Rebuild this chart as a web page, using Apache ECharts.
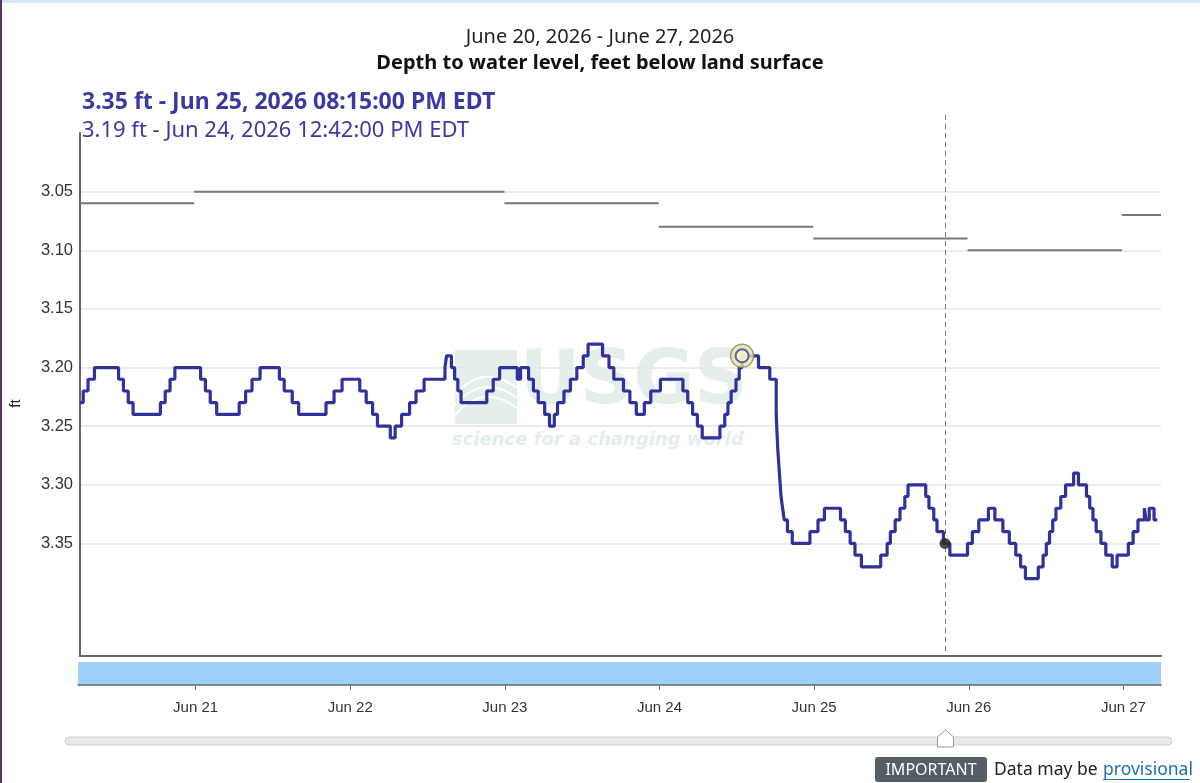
<!DOCTYPE html>
<html>
<head>
<meta charset="utf-8">
<script src="https://cdn.jsdelivr.net/npm/echarts@6/dist/echarts.min.js"></script>
<style>
  html, body { margin: 0; padding: 0; background: #fff; }
  #chart { width: 1200px; height: 783px; }
</style>
</head>
<body>
<div id="chart"></div>
<script>
// water level readings (step changes), feet below land surface
var levelTimes = [
  '06-20 05:45', '06-20 06:15', '06-20 07:00', '06-20 08:00', '06-20 11:45', '06-20 12:30', '06-20 13:15', '06-20 14:00',
  '06-20 18:15', '06-20 19:00', '06-20 19:45', '06-20 20:30',
  '06-21 00:30', '06-21 01:15', '06-21 02:00', '06-21 03:00', '06-21 06:30', '06-21 07:30', '06-21 08:30', '06-21 09:45',
  '06-21 12:45', '06-21 13:30', '06-21 14:45', '06-21 15:45', '06-21 20:00', '06-21 21:15', '06-21 22:30',
  '06-22 01:15', '06-22 02:15', '06-22 03:15', '06-22 04:00', '06-22 06:00', '06-22 06:45', '06-22 07:45', '06-22 09:00',
  '06-22 10:00', '06-22 11:15', '06-22 14:30', '06-22 14:45', '06-22 15:30', '06-22 16:00', '06-22 16:30', '06-22 17:00',
  '06-22 21:00', '06-22 22:00', '06-22 23:00',
  '06-23 01:45', '06-23 02:15', '06-23 03:30', '06-23 04:15', '06-23 05:00', '06-23 06:00', '06-23 06:45', '06-23 07:30',
  '06-23 08:00', '06-23 09:00', '06-23 10:00', '06-23 11:00', '06-23 12:00', '06-23 12:45', '06-23 15:00', '06-23 16:00',
  '06-23 16:45', '06-23 18:15', '06-23 19:15', '06-23 20:15', '06-23 21:30', '06-23 22:30',
  '06-24 00:00', '06-24 03:30', '06-24 04:15', '06-24 05:00', '06-24 05:45', '06-24 06:30', '06-24 09:15', '06-24 10:00',
  '06-24 10:30', '06-24 11:00', '06-24 11:45', '06-24 12:15', '06-24 12:42', '06-24 15:15', '06-24 17:00', '06-24 18:00',
  '06-24 18:15', '06-24 18:30', '06-24 18:45', '06-24 19:00', '06-24 19:15', '06-24 19:45', '06-24 20:30', '06-24 23:15',
  '06-25 00:30', '06-25 01:30', '06-25 04:00', '06-25 04:45', '06-25 05:30', '06-25 06:15', '06-25 07:15', '06-25 10:15',
  '06-25 11:15', '06-25 11:45', '06-25 12:30', '06-25 13:15', '06-25 14:00', '06-25 14:30', '06-25 17:15', '06-25 17:45',
  '06-25 18:30', '06-25 19:00', '06-25 20:00', '06-25 21:00', '06-25 23:45',
  '06-26 00:30', '06-26 01:30', '06-26 03:00', '06-26 04:00', '06-26 05:15', '06-26 06:15', '06-26 07:15', '06-26 08:00',
  '06-26 08:45', '06-26 10:45', '06-26 11:30', '06-26 12:00', '06-26 12:30', '06-26 13:00', '06-26 13:30', '06-26 14:15',
  '06-26 15:00', '06-26 16:15', '06-26 17:00', '06-26 18:15', '06-26 18:45', '06-26 19:15', '06-26 19:45', '06-26 20:30',
  '06-26 21:15', '06-26 22:15', '06-26 23:00',
  '06-27 00:45', '06-27 01:30', '06-27 02:15', '06-27 03:15', '06-27 03:30', '06-27 04:00', '06-27 04:45', '06-27 05:15'
]
var levelValues = [
  3.23, 3.22, 3.21, 3.20, 3.21, 3.22, 3.23, 3.24, 3.23, 3.22, 3.21, 3.20,
  3.21, 3.22, 3.23, 3.24, 3.23, 3.22, 3.21, 3.20, 3.21, 3.22, 3.23, 3.24, 3.23, 3.22, 3.21,
  3.22, 3.23, 3.24, 3.25, 3.26, 3.25, 3.24, 3.23, 3.22, 3.21, 3.20, 3.19, 3.20, 3.21, 3.22, 3.23, 3.22, 3.21, 3.20,
  3.21, 3.20, 3.21, 3.22, 3.23, 3.24, 3.25, 3.24, 3.23, 3.22, 3.21, 3.20, 3.19, 3.18, 3.19, 3.20, 3.21, 3.22, 3.23,
  3.24, 3.23, 3.22,
  3.21, 3.22, 3.23, 3.24, 3.25, 3.26, 3.25, 3.24, 3.23, 3.22, 3.21, 3.20, 3.19, 3.20, 3.21, 3.24, 3.27, 3.29, 3.31,
  3.32, 3.33, 3.34, 3.35, 3.34,
  3.33, 3.32, 3.33, 3.34, 3.35, 3.36, 3.37, 3.36, 3.35, 3.34, 3.33, 3.32, 3.31, 3.30, 3.31, 3.32, 3.33, 3.34, 3.35,
  3.36, 3.35,
  3.34, 3.33, 3.32, 3.33, 3.34, 3.35, 3.36, 3.37, 3.38, 3.37, 3.36, 3.35, 3.34, 3.33, 3.32, 3.31, 3.30, 3.29, 3.30,
  3.31, 3.32, 3.33, 3.34, 3.35, 3.36, 3.37, 3.36,
  3.35, 3.34, 3.33, 3.32, 3.33, 3.32, 3.33, 3.33
]

// daily statistic (grey segments)
var statStarts = ['06-20 05:45', '06-20 23:30', '06-22 23:45', '06-23 23:45', '06-24 23:45', '06-25 23:45', '06-26 23:45']
var statValues = [3.06, 3.05, 3.06, 3.08, 3.09, 3.10, 3.07]

var dayTicks = ['06-21', '06-22', '06-23', '06-24', '06-25', '06-26', '06-27']
var dayLabels = ['Jun 21', 'Jun 22', 'Jun 23', 'Jun 24', 'Jun 25', 'Jun 26', 'Jun 27']
var yTicks = [3.05, 3.10, 3.15, 3.20, 3.25, 3.30, 3.35]

var rangeStart = '06-20 05:45'
var rangeEnd = '06-27 05:50'
var cursorTime = '06-25 20:15', cursorValue = 3.35, cursorText = 'Jun 25, 2026 08:15:00 PM EDT'
var pickTime = '06-24 12:42', pickValue = 3.19, pickText = 'Jun 24, 2026 12:42:00 PM EDT'

function t(s) {
  var p = s.split(' ')
  return new Date('2026-' + p[0] + 'T' + (p[1] || '00:00')).getTime()
}

var levelData = levelTimes.map(function(s, i) { return [t(s), levelValues[i]] })
var statData = []
statStarts.forEach(function(s, i) {
  var end = i + 1 < statStarts.length ? statStarts[i + 1] : rangeEnd
  statData.push([t(s), statValues[i]], [t(end), statValues[i]], [t(end), '-'])
})
var dayTickValues = dayTicks.map(t)
var DAY = 86400000

var chart = echarts.init(document.getElementById('chart'))
var blue = '#31319b'
var txtBlue = '#3a3aa2'
var wm = '#e4eeeb'

chart.setOption({
  animation: false,
  title: [
    { text: 'June 20, 2026 - June 27, 2026', left: 'center', top: 27, padding: 0,
      textStyle: { fontFamily: 'Noto Sans', fontSize: 20, fontWeight: 'normal', color: '#222' } },
    { text: 'Depth to water level, feet below land surface', left: 'center', top: 53, padding: 0,
      textStyle: { fontFamily: 'Noto Sans', fontSize: 20, fontWeight: 'bold', color: '#111' } },
    { text: cursorValue.toFixed(2) + ' ft - ' + cursorText, left: 82, top: 91, padding: 0,
      textStyle: { fontFamily: 'Noto Sans', fontSize: 23, fontWeight: 'bold', color: txtBlue } },
    { text: pickValue.toFixed(2) + ' ft - ' + pickText, left: 82, top: 120, padding: 0,
      textStyle: { fontFamily: 'Noto Sans', fontSize: 22, fontWeight: 'normal', color: txtBlue } }
  ],
  grid: [
    { left: 78, right: 39, top: 133, bottom: 127 },
    { left: 78, right: 39, top: 662, height: 23, show: true, backgroundColor: '#a0d1fa', borderWidth: 0 }
  ],
  xAxis: [
    { type: 'time', gridIndex: 0, min: t(rangeStart), max: t(rangeEnd),
      axisLine: { show: true, lineStyle: { color: '#666', width: 2 } },
      axisTick: { show: false }, axisLabel: { show: false }, splitLine: { show: false } },
    { type: 'time', gridIndex: 1, min: t(rangeStart), max: t(rangeEnd), position: 'bottom', offset: 7,
      minInterval: DAY, maxInterval: DAY,
      axisLine: { show: true, lineStyle: { color: '#666', width: 1.5 } },
      axisTick: { show: true, length: 5, lineStyle: { color: '#666' } },
      axisLabel: { margin: 8, fontFamily: 'Liberation Sans', fontSize: 15, color: '#333',
        formatter: function(v) { return dayLabels[dayTickValues.indexOf(v)] || '' } },
      splitLine: { show: false } }
  ],
  yAxis: [
    { type: 'value', gridIndex: 0, inverse: true, min: 3.0, max: 3.446,
      name: 'ft', nameLocation: 'middle', nameGap: 57, nameRotate: 90,
      nameTextStyle: { fontFamily: 'Liberation Sans', fontSize: 15, color: '#222', padding: [0, 0, 0, -18] },
      axisLine: { show: true, lineStyle: { color: '#666', width: 2 } },
      axisTick: { show: false },
      axisLabel: { customValues: yTicks, margin: 7, fontFamily: 'Liberation Sans', fontSize: 16.5, color: '#333',
        formatter: function(v) { return v.toFixed(2) } },
      splitLine: { show: false } },
    { type: 'value', gridIndex: 1, show: false, min: 0, max: 1 }
  ],
  graphic: [
    { id: 'topband', type: 'rect', shape: { x: 0, y: 0, width: 1200, height: 3 }, style: { fill: '#d5e5f4' }, z: 100 },
    { id: 'leftband', type: 'rect', shape: { x: 0, y: 0, width: 2, height: 783 }, style: { fill: '#5e3060' }, z: 100 },
    // watermark
    { id: 'watermark', type: 'group', z: -1, silent: true, children: [
      { type: 'rect', shape: { x: 455, y: 350, width: 62, height: 74 }, style: { fill: wm } },
      { type: 'bezierCurve', shape: { x1: 455, y1: 395, cpx1: 475, cpy1: 372, cpx2: 495, cpy2: 372, x2: 517, y2: 388 },
        style: { stroke: '#fff', lineWidth: 2, fill: null } },
      { type: 'bezierCurve', shape: { x1: 455, y1: 405, cpx1: 475, cpy1: 382, cpx2: 495, cpy2: 382, x2: 517, y2: 398 },
        style: { stroke: '#fff', lineWidth: 2, fill: null } },
      { type: 'bezierCurve', shape: { x1: 455, y1: 415, cpx1: 475, cpy1: 392, cpx2: 495, cpy2: 392, x2: 517, y2: 408 },
        style: { stroke: '#fff', lineWidth: 2, fill: null } },
      { type: 'text', x: 520, y: 347, style: { text: 'USGS', fontFamily: 'DejaVu Sans', fontWeight: 'bold',
        fontSize: 74, fill: wm } },
      { type: 'text', x: 452, y: 431, style: { text: 'science for a changing world', fontFamily: 'DejaVu Sans',
        fontStyle: 'italic', fontWeight: 'bold', fontSize: 18, fill: wm } }
    ] },
    // scrollbar track
    { id: 'track', type: 'rect', shape: { x: 65, y: 737, width: 1107, height: 8, r: 4 },
      style: { fill: '#e9e9e9', stroke: '#cfcfcf', lineWidth: 1 } },
    // notice
    { id: 'badge', type: 'rect', shape: { x: 875, y: 757, width: 112, height: 25, r: 3 }, style: { fill: '#555d66' } },
    { id: 'badgeText', type: 'text', x: 931, y: 770, style: { text: 'IMPORTANT', fontFamily: 'Noto Sans', fontSize: 16,
      fill: '#fff', align: 'center', verticalAlign: 'middle' } },
    { id: 'note', type: 'text', x: 994, y: 770, style: { text: 'Data may be', fontFamily: 'Noto Sans', fontSize: 17.5,
      fill: '#222', verticalAlign: 'middle' } },
    { id: 'link', type: 'text', x: 1103, y: 770, style: { text: 'provisional', fontFamily: 'Noto Sans', fontSize: 17.5,
      fill: '#1f6fae', verticalAlign: 'middle' } },
    { id: 'linkLine', type: 'rect', shape: { x: 1103, y: 779, width: 87, height: 1 }, style: { fill: '#1f6fae' } }
  ],
  series: [
    { type: 'line', name: 'daily', xAxisIndex: 0, yAxisIndex: 0, data: statData, showSymbol: false,
      connectNulls: false, z: 1, lineStyle: { color: '#777', width: 2 },
      markLine: { silent: true, z: 0, symbol: 'none', label: { show: false },
        lineStyle: { color: '#e6e6e6', width: 1.5, type: 'solid' },
        data: yTicks.map(function(v) { return { yAxis: v } }) } },
    { type: 'line', name: 'level', xAxisIndex: 0, yAxisIndex: 0, data: levelData, step: 'end',
      showSymbol: false, z: 3, lineStyle: { color: blue, width: 3.2 } },
    { type: 'scatter', xAxisIndex: 0, yAxisIndex: 0, z: 5, symbolSize: 11,
      data: [[t(cursorTime), cursorValue]], itemStyle: { color: '#2b2b2b', opacity: 0.85 } },
    { type: 'scatter', xAxisIndex: 0, yAxisIndex: 0, z: 5, symbolSize: 23,
      data: [[t(pickTime), pickValue]], itemStyle: { color: '#e9e4a6', borderColor: '#8a875a', borderWidth: 1.5 } },
    { type: 'scatter', xAxisIndex: 0, yAxisIndex: 0, z: 6, symbolSize: 13,
      data: [[t(pickTime), pickValue]], itemStyle: { color: '#f7f4cf', borderColor: '#3b3ba8', borderWidth: 2 } }
  ]
})

// cursor line and scrollbar handle follow the cursor time
var cx = Math.round(chart.convertToPixel({ xAxisIndex: 0 }, t(cursorTime))) + 0.5
chart.setOption({
  graphic: [
    { id: 'cursorLine', type: 'line', shape: { x1: cx, y1: 115, x2: cx, y2: 652 }, z: 4,
      style: { stroke: '#777', lineWidth: 1, lineDash: [5, 4] } },
    { id: 'handle', type: 'polygon', z: 10,
      shape: { points: [[cx - 8, 747], [cx + 8, 747], [cx + 8, 737], [cx, 730], [cx - 8, 737]] },
      style: { fill: '#fff', stroke: '#999', lineWidth: 1 } }
  ]
})
</script>
</body>
</html>
